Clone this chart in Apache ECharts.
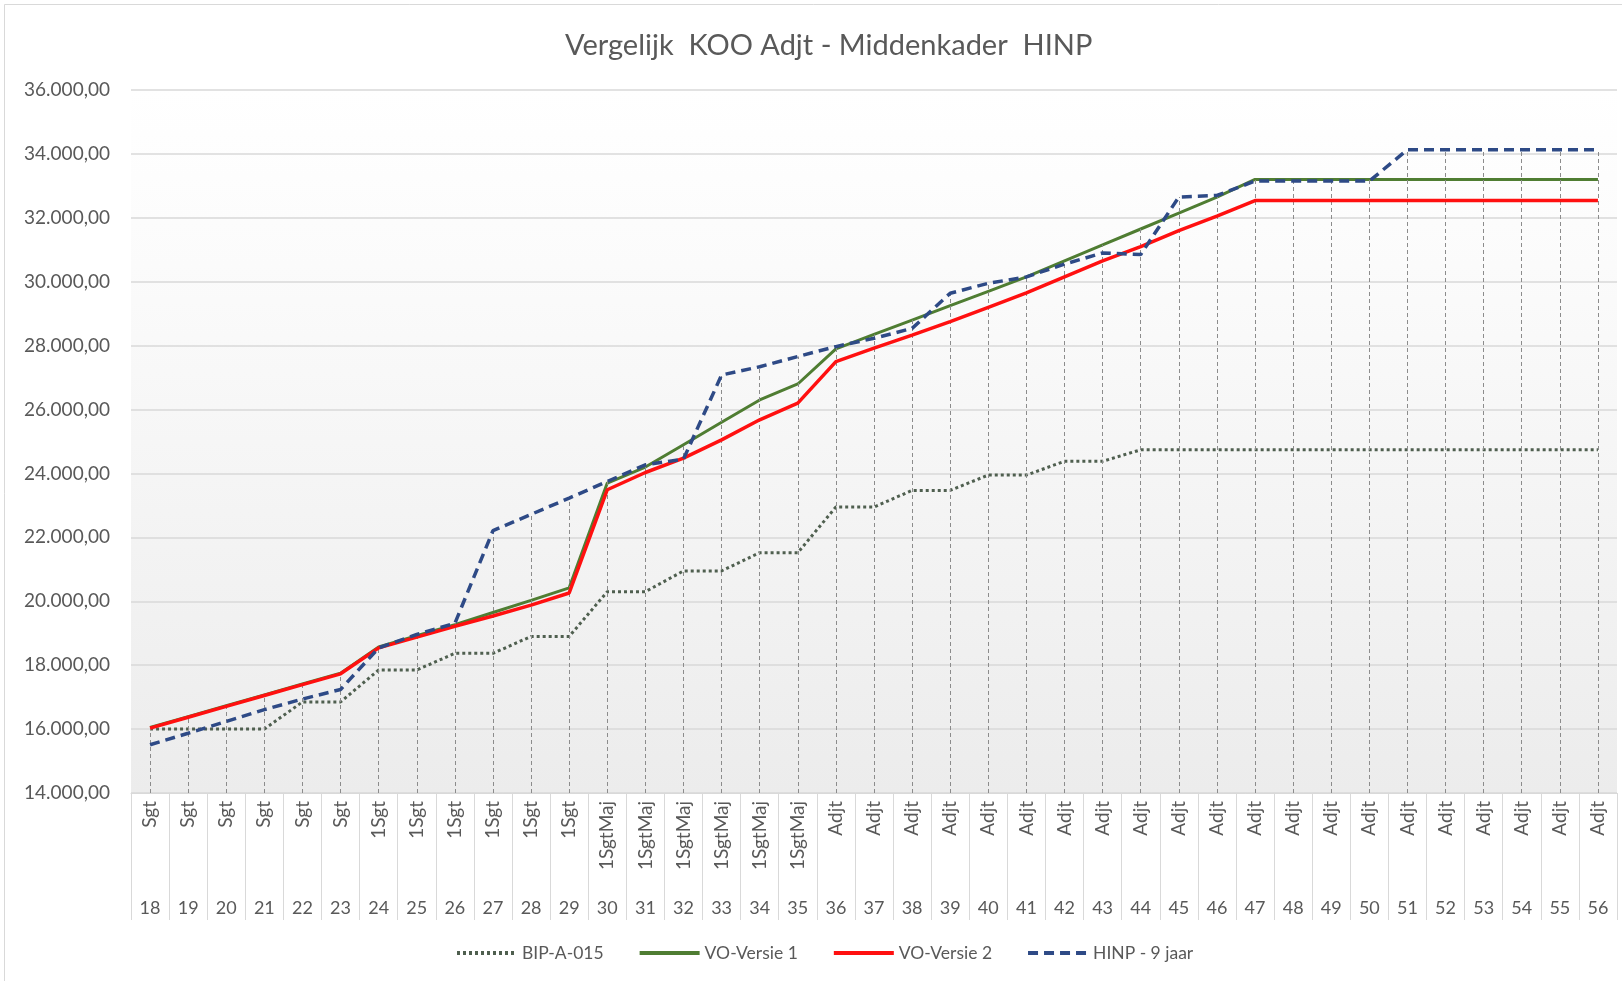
<!DOCTYPE html>
<html>
<head>
<meta charset="utf-8">
<script src="https://cdn.jsdelivr.net/npm/echarts@6/dist/echarts.min.js"></script>
<style>
    body { margin: 0; background: #fff; }
    #chart { width: 1622px; height: 981px; }
</style>
</head>
<body>
<div id="chart"></div>
<script>
// leeftijden (buitenste labels) en graad (binnenste labels)
const ages = ['18', '19', '20', '21', '22', '23', '24', '25', '26', '27', '28', '29', '30', '31', '32', '33', '34', '35', '36', '37',
    '38', '39', '40', '41', '42', '43', '44', '45', '46', '47', '48', '49', '50', '51', '52', '53', '54', '55', '56']
const ranks = ['Sgt', 'Sgt', 'Sgt', 'Sgt', 'Sgt', 'Sgt', '1Sgt', '1Sgt', '1Sgt', '1Sgt', '1Sgt', '1Sgt',
    '1SgtMaj', '1SgtMaj', '1SgtMaj', '1SgtMaj', '1SgtMaj', '1SgtMaj',
    'Adjt', 'Adjt', 'Adjt', 'Adjt', 'Adjt', 'Adjt', 'Adjt', 'Adjt', 'Adjt', 'Adjt', 'Adjt',
    'Adjt', 'Adjt', 'Adjt', 'Adjt', 'Adjt', 'Adjt', 'Adjt', 'Adjt', 'Adjt', 'Adjt']

const bipA015 = [16000, 16000, 16000, 16000, 16850, 16850, 17850, 17850, 18370, 18370, 18900, 18900,
    20300, 20300, 20950, 20950, 21520, 21520, 22950, 22950, 23470, 23470, 23950, 23950, 24380, 24380,
    24740, 24740, 24740, 24740, 24740, 24740, 24740, 24740, 24740, 24740, 24740, 24740, 24740]
const voVersie1 = [16050, 16390, 16730, 17070, 17410, 17750, 18570, 18920, 19270, 19650, 20030, 20420,
    23700, 24200, 24900, 25600, 26300, 26800, 27900, 28350, 28800, 29250, 29700, 30150, 30650, 31150,
    31650, 32150, 32650, 33200, 33200, 33200, 33200, 33200, 33200, 33200, 33200, 33200, 33200]
const voVersie2 = [16030, 16370, 16710, 17050, 17390, 17730, 18540, 18880, 19220, 19540, 19880, 20260,
    23490, 24030, 24480, 25050, 25680, 26200, 27500, 27920, 28330, 28750, 29200, 29650, 30150, 30650,
    31100, 31600, 32050, 32540, 32540, 32540, 32540, 32540, 32540, 32540, 32540, 32540, 32540]
const hinp9 = [15510, 15870, 16240, 16610, 16940, 17240, 18540, 18960, 19310, 22210, 22720, 23230,
    23750, 24270, 24450, 27080, 27340, 27660, 27970, 28230, 28540, 29640, 29950, 30150, 30550, 30900,
    30850, 32650, 32700, 33150, 33150, 33150, 33150, 34130, 34130, 34130, 34130, 34130, 34130]

const yMin = 14000
const yMax = 36000
const textColor = '#595959'
const fontFamily = 'Lato, "Liberation Sans", sans-serif'

// 36000 -> "36.000,00"
function fmtNumber (v) {
    return String(Math.round(v)).replace(/\B(?=(\d{3})+(?!\d))/g, '.') + ',00'
}

// vallijnen: van de hoogste lijn tot aan de as
const dropLines = ages.map((a, i) => {
    const top = Math.max(bipA015[i], voVersie1[i], voVersie2[i], hinp9[i])
    return [{ coord: [i, yMin] }, { coord: [i, top] }]
})

const myChart = echarts.init(document.getElementById('chart'), null, { renderer: 'canvas' })
const options = {
    backgroundColor: '#ffffff',
    animation: false,
    textStyle: { fontFamily: fontFamily },
    title: {
        text: 'Vergelijk  KOO Adjt - Middenkader  HINP',
        left: 560,
        top: 26,
        textStyle: { color: textColor, fontSize: 29, fontWeight: 'normal', fontFamily: fontFamily }
    },
    graphic: [{
        type: 'rect',
        silent: true,
        shape: { x: 4.5, y: 4.5, width: 1640, height: 1000 },
        style: { fill: 'none', stroke: '#d9d9d9', lineWidth: 1 }
    }],
    legend: {
        left: 450,
        top: 939,
        itemWidth: 60,
        itemHeight: 18,
        itemGap: 34,
        itemStyle: { opacity: 0 },
        lineStyle: { width: 4 },
        data: ['BIP-A-015', 'VO-Versie 1', 'VO-Versie 2', 'HINP - 9 jaar'],
        textStyle: { color: textColor, fontSize: 17.5, fontFamily: fontFamily }
    },
    grid: {
        left: 131,
        right: 5,
        top: 90,
        bottom: 188,
        show: true,
        borderWidth: 0,
        backgroundColor: new echarts.graphic.LinearGradient(0, 0, 0, 1, [
            { offset: 0, color: '#ffffff' },
            { offset: 0.25, color: '#fbfbfb' },
            { offset: 1, color: '#ececec' }
        ])
    },
    xAxis: [{
        type: 'category',
        data: ages,
        boundaryGap: true,
        axisLine: { show: true, lineStyle: { color: '#d9d9d9', width: 1 } },
        axisTick: { show: true, alignWithLabel: false, length: 127, lineStyle: { color: '#d9d9d9' } },
        axisLabel: {
            rotate: 90,
            margin: 8,
            color: textColor,
            fontSize: 19,
            fontFamily: fontFamily,
            formatter: (value, index) => ranks[index]
        },
        splitLine: { show: false }
    }, {
        type: 'category',
        data: ages,
        position: 'bottom',
        offset: 98,
        boundaryGap: true,
        axisLine: { show: false },
        axisTick: { show: false },
        axisLabel: { color: textColor, fontSize: 18, margin: 8, fontFamily: fontFamily },
        splitLine: { show: false }
    }],
    yAxis: {
        type: 'value',
        min: yMin,
        max: yMax,
        interval: 2000,
        axisLine: { show: false },
        axisTick: { show: false },
        axisLabel: { color: textColor, fontSize: 19, margin: 21, fontFamily: fontFamily, formatter: fmtNumber },
        splitLine: { lineStyle: { color: '#d9d9d9', width: 1.5 } }
    },
    series: [{
        name: 'drop',
        type: 'line',
        data: [],
        silent: true,
        z: 1,
        markLine: {
            silent: true,
            symbol: 'none',
            label: { show: false },
            animation: false,
            lineStyle: { color: '#8c8c8c', width: 1, type: [4, 3] },
            data: dropLines
        }
    }, {
        name: 'BIP-A-015',
        type: 'line',
        data: bipA015,
        symbol: 'none',
        z: 3,
        color: '#4f5f4f',
        lineStyle: { color: '#4f5f4f', width: 3, type: [3, 3] }
    }, {
        name: 'VO-Versie 1',
        type: 'line',
        data: voVersie1,
        symbol: 'none',
        z: 4,
        color: '#4f7d32',
        lineStyle: { color: '#4f7d32', width: 3 }
    }, {
        name: 'VO-Versie 2',
        type: 'line',
        data: voVersie2,
        symbol: 'none',
        z: 5,
        color: '#ff1010',
        lineStyle: { color: '#ff1010', width: 3.5 }
    }, {
        name: 'HINP - 9 jaar',
        type: 'line',
        data: hinp9,
        symbol: 'none',
        z: 6,
        color: '#2e4a86',
        lineStyle: { color: '#2e4a86', width: 3.5, type: [10, 6] }
    }]
}
myChart.setOption(options)
</script>
</body>
</html>
